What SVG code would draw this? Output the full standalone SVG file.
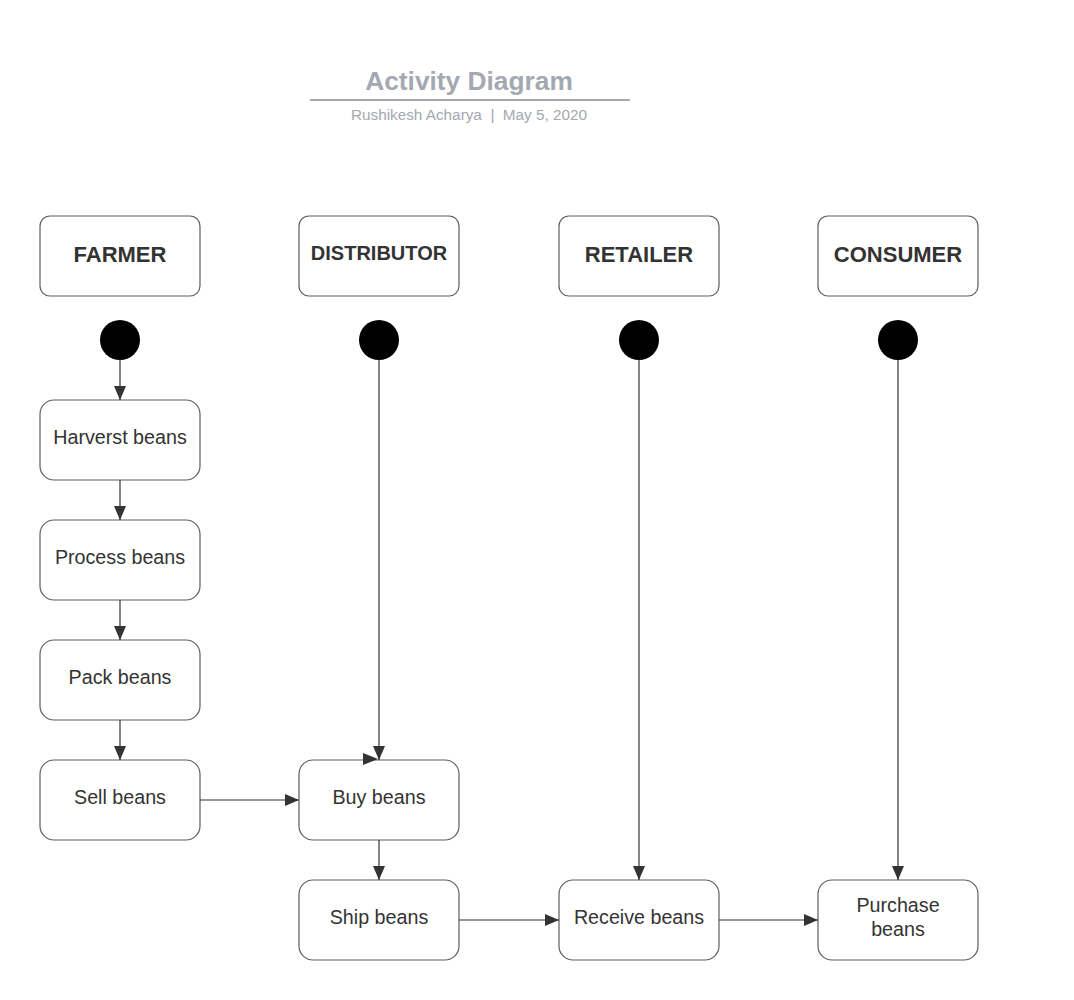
<svg xmlns="http://www.w3.org/2000/svg" width="1074" height="1000" viewBox="0 0 1074 1000">
<style>
.box{fill:#fff;stroke:#5e5e5e;stroke-width:1.2}
.hdr{font-family:"Liberation Sans",Arial,sans-serif;font-weight:bold;font-size:22px;fill:#333;text-anchor:middle}
.hdr.small{font-size:20px}
.act{font-family:"Liberation Sans",Arial,sans-serif;font-size:19.7px;fill:#333;text-anchor:middle}
.start{fill:#000}
.conn{stroke:#333;stroke-width:1.2;fill:none;marker-end:url(#arr)}
</style>
<defs>
<marker id="arr" viewBox="0 0 14 12" refX="14" refY="6" markerWidth="14" markerHeight="12" markerUnits="userSpaceOnUse" orient="auto">
<path d="M0,0 L14,6 L0,12 Z" fill="#333"/>
</marker>
</defs>
<rect width="1074" height="1000" fill="#fff"/>
<g id="title">
<text x="469" y="90" font-family="'Liberation Sans',Arial,sans-serif" font-weight="bold" font-size="26.3" fill="#a3a8b1" text-anchor="middle">Activity Diagram</text>
<line x1="310" y1="100" x2="630" y2="100" stroke="#a3a8b1" stroke-width="2"/>
<text x="469" y="120" font-family="'Liberation Sans',Arial,sans-serif" font-size="15.3" fill="#a3a8b1" text-anchor="middle" xml:space="preserve">Rushikesh Acharya  |  May 5, 2020</text>
</g>
<g id="hdr-farmer"><rect class="box" x="40" y="216" width="160" height="80" rx="10"/><text class="hdr" x="120" y="262">FARMER</text></g>
<g id="hdr-distributor"><rect class="box" x="299" y="216" width="160" height="80" rx="10"/><text class="hdr small" x="379" y="260">DISTRIBUTOR</text></g>
<g id="hdr-retailer"><rect class="box" x="559" y="216" width="160" height="80" rx="10"/><text class="hdr" x="639" y="262">RETAILER</text></g>
<g id="hdr-consumer"><rect class="box" x="818" y="216" width="160" height="80" rx="10"/><text class="hdr" x="898" y="262">CONSUMER</text></g>
<g id="start-farmer"><circle class="start" cx="120" cy="340" r="20"/></g>
<g id="start-distributor"><circle class="start" cx="379" cy="340" r="20"/></g>
<g id="start-retailer"><circle class="start" cx="639" cy="340" r="20"/></g>
<g id="start-consumer"><circle class="start" cx="898" cy="340" r="20"/></g>
<g id="harvest"><rect class="box" x="40" y="400" width="160" height="80" rx="14"/><text class="act" x="120" y="444">Harverst beans</text></g>
<g id="process"><rect class="box" x="40" y="520" width="160" height="80" rx="14"/><text class="act" x="120" y="564">Process beans</text></g>
<g id="pack"><rect class="box" x="40" y="640" width="160" height="80" rx="14"/><text class="act" x="120" y="684">Pack beans</text></g>
<g id="sell"><rect class="box" x="40" y="760" width="160" height="80" rx="14"/><text class="act" x="120" y="804">Sell beans</text></g>
<g id="buy"><rect class="box" x="299" y="760" width="160" height="80" rx="14"/><text class="act" x="379" y="804">Buy beans</text></g>
<g id="ship"><rect class="box" x="299" y="880" width="160" height="80" rx="14"/><text class="act" x="379" y="924">Ship beans</text></g>
<g id="receive"><rect class="box" x="559" y="880" width="160" height="80" rx="14"/><text class="act" x="639" y="924">Receive beans</text></g>
<g id="purchase"><rect class="box" x="818" y="880" width="160" height="80" rx="14"/><text class="act" x="898" y="912">Purchase</text><text class="act" x="898" y="936">beans</text></g>
<g id="connectors">
<line class="conn" x1="120" y1="360" x2="120" y2="400"/>
<line class="conn" x1="120" y1="480" x2="120" y2="520"/>
<line class="conn" x1="120" y1="600" x2="120" y2="640"/>
<line class="conn" x1="120" y1="720" x2="120" y2="760"/>
<line class="conn" x1="379" y1="360" x2="379" y2="760"/>
<path d="M363,753 L378,759 L363,765 Z" fill="#333"/>
<line class="conn" x1="200" y1="800" x2="299" y2="800"/>
<line class="conn" x1="379" y1="840" x2="379" y2="880"/>
<line class="conn" x1="459" y1="920" x2="559" y2="920"/>
<line class="conn" x1="639" y1="360" x2="639" y2="880"/>
<line class="conn" x1="719" y1="920" x2="818" y2="920"/>
<line class="conn" x1="898" y1="360" x2="898" y2="880"/>
</g>
</svg>
